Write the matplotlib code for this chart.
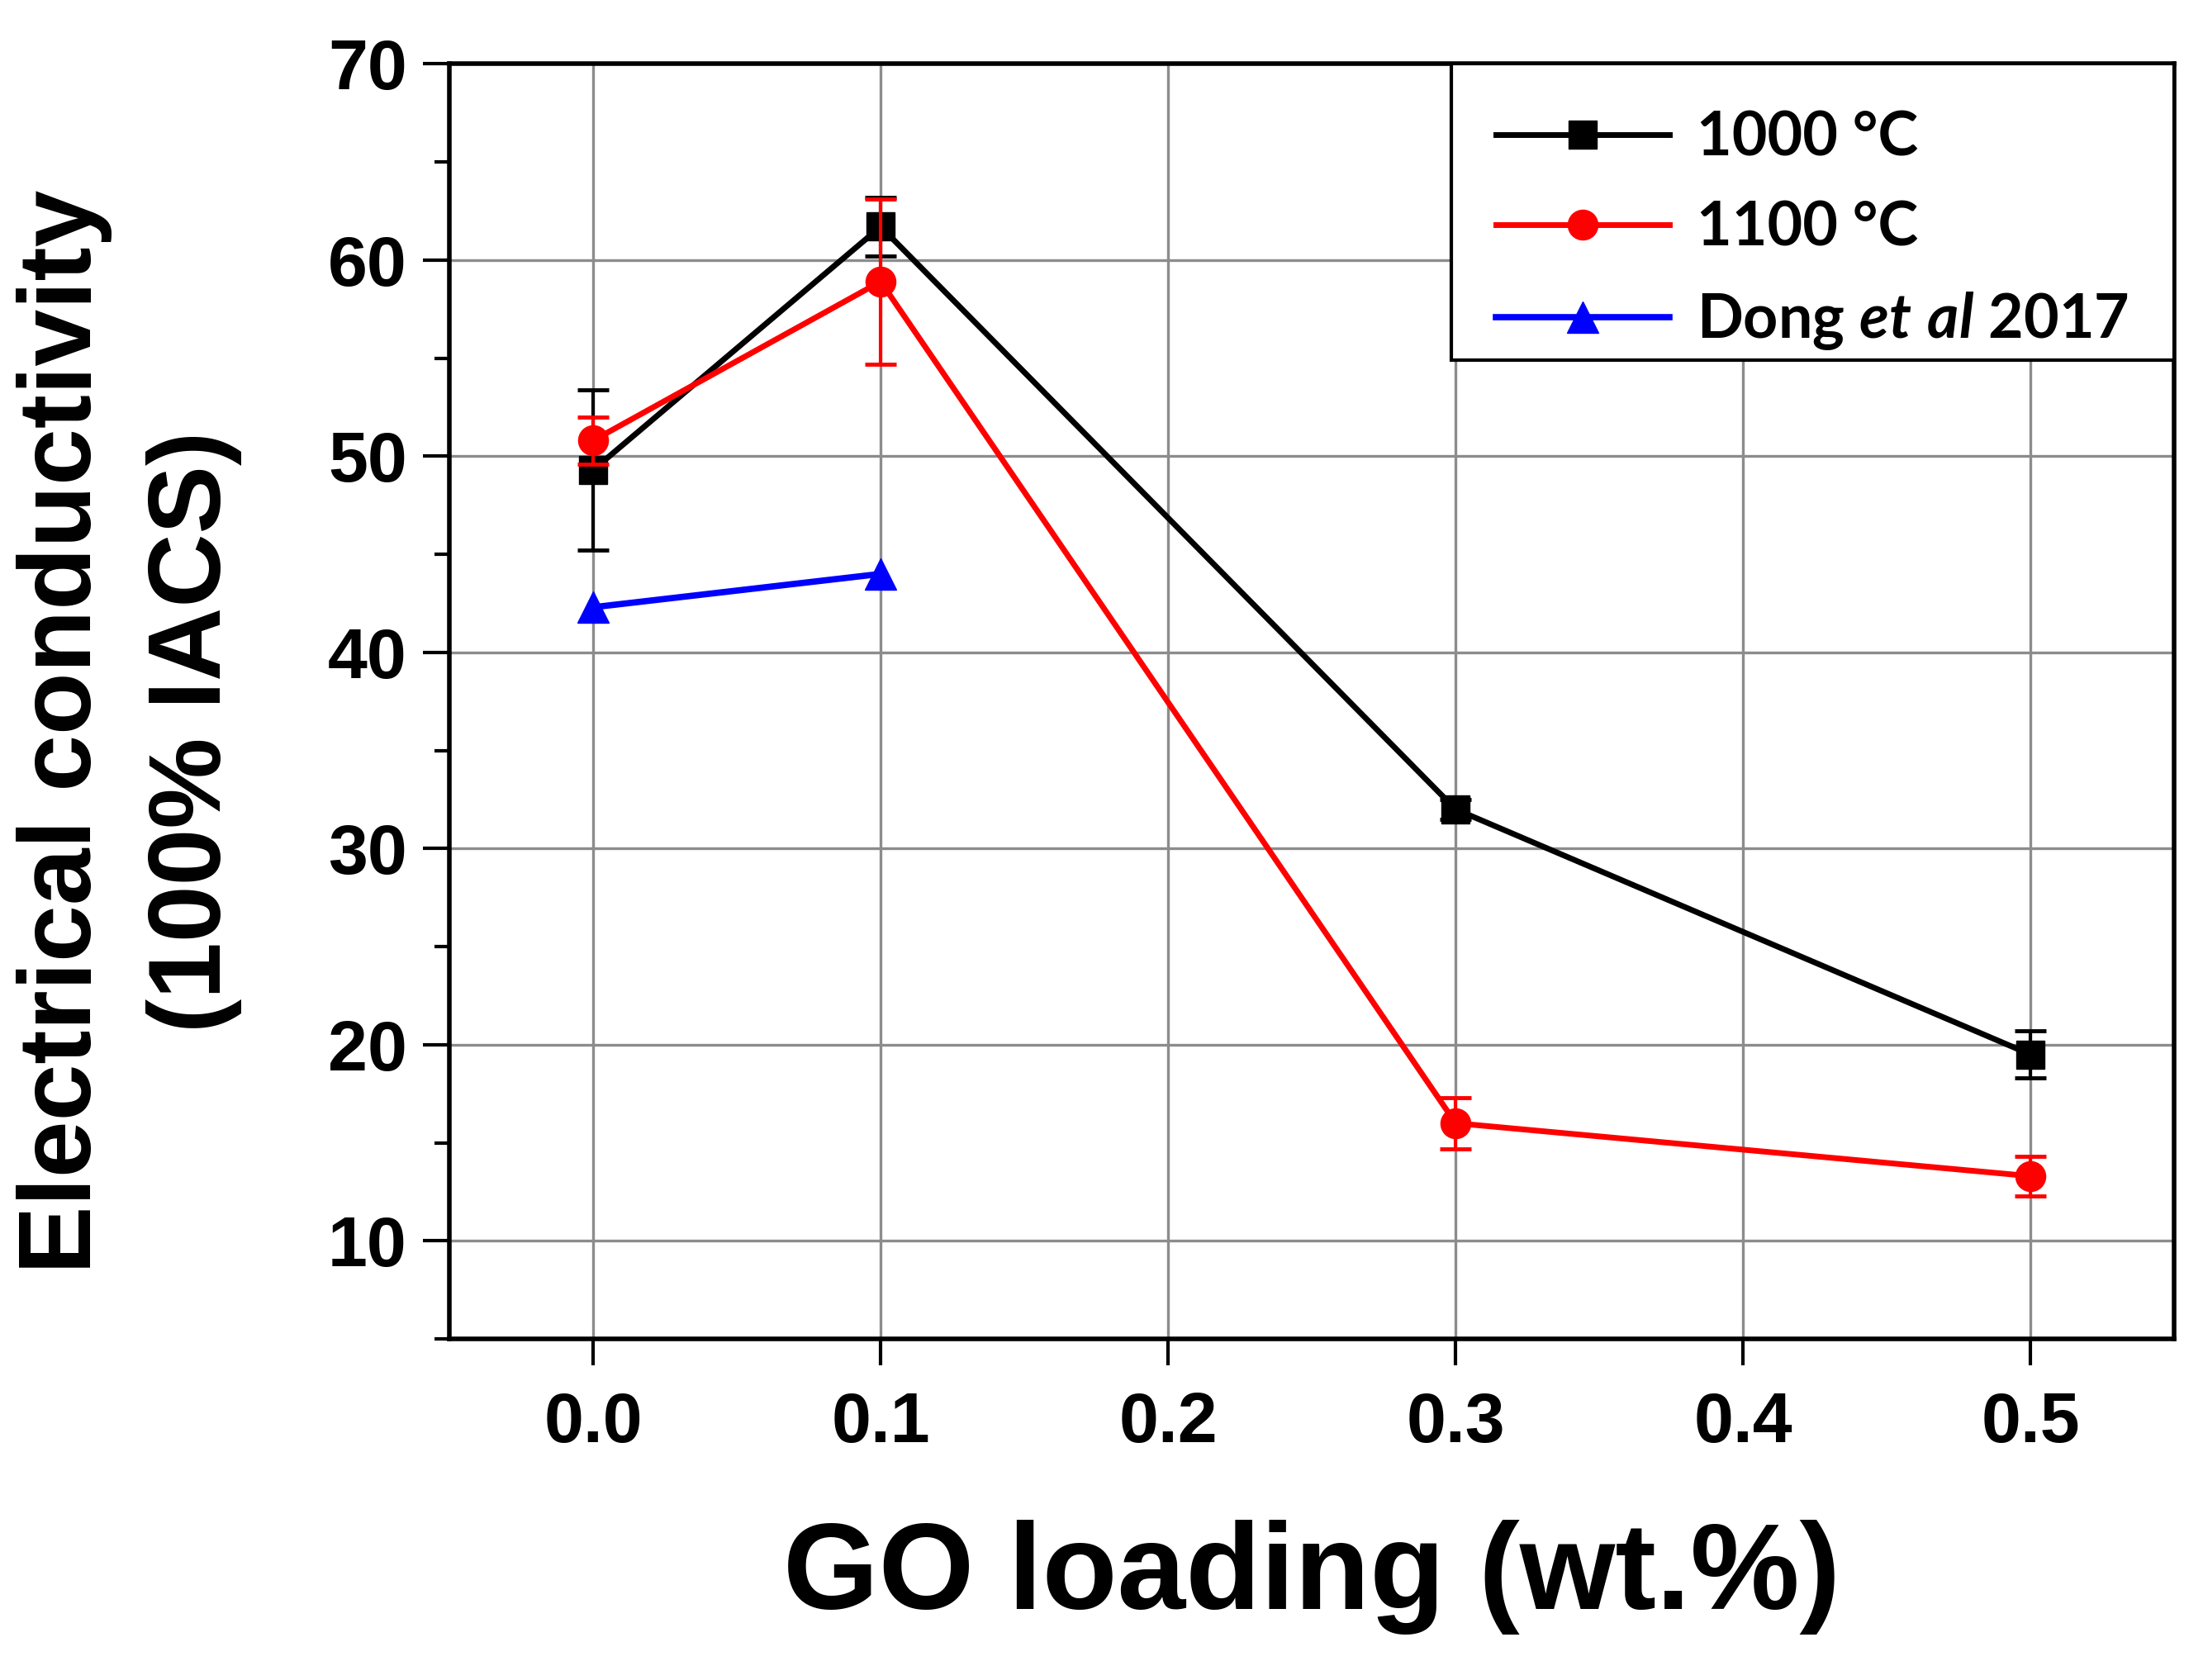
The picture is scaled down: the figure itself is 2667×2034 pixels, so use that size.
import numpy as np
import matplotlib
matplotlib.use("Agg")
import matplotlib.pyplot as plt
from matplotlib.ticker import MultipleLocator
from matplotlib.patches import Rectangle

# データ
go_loading = [0.0, 0.1, 0.3, 0.5]
cond_1000 = [49.3, 61.7, 32.0, 19.5]
err_1000 = [4.1, 1.5, 0.5, 1.2]
cond_1100 = [50.8, 58.9, 16.0, 13.3]
err_1100 = [1.2, 4.2, 1.3, 1.0]
dong_loading = [0.0, 0.1]
dong_cond = [42.3, 44.0]

labels = ["1000 °C", "1100 °C", r"Dong $\mathit{et\ al}$ 2017"]
x_ticks = [0.0, 0.1, 0.2, 0.3, 0.4, 0.5]
y_ticks = [10, 20, 30, 40, 50, 60, 70]

plt.rcParams["font.family"] = ["Liberation Sans", "DejaVu Sans"]
plt.rcParams["font.weight"] = "bold"
plt.rcParams["mathtext.fontset"] = "custom"
plt.rcParams["mathtext.it"] = "Lato:italic:bold"
plt.rcParams["mathtext.rm"] = "Lato:bold"

fig = plt.figure(figsize=(26.67, 20.34), dpi=100)
ax = fig.add_axes([0.204, 0.203, 0.783, 0.759])

ax.grid(True, color="#8c8c8c", lw=2.4, zorder=0)
ax.set_axisbelow(True)

c1 = ax.errorbar(go_loading, cond_1000, yerr=err_1000, color="black", lw=5,
                 marker="s", ms=24, capsize=14, elinewidth=3, capthick=3.5,
                 zorder=3)
c2 = ax.errorbar(go_loading, cond_1100, yerr=err_1100, color="red", lw=5,
                 marker="o", ms=26, capsize=14, elinewidth=3, capthick=3.5,
                 zorder=4)
l3, = ax.plot(dong_loading, dong_cond, color="blue", lw=5.5, marker="^", ms=27,
              zorder=3)

ax.set_xlim(-0.05, 0.55)
ax.set_ylim(5, 70)
ax.set_xticks(x_ticks)
ax.set_xticklabels([f"{v:.1f}" for v in x_ticks])
ax.set_yticks(y_ticks)
ax.yaxis.set_minor_locator(MultipleLocator(5))

for s in ax.spines.values():
    s.set_linewidth(4)
ax.tick_params(axis="both", which="major", direction="out", length=23, width=3,
               labelsize=62, pad=14)
ax.tick_params(axis="x", which="major", pad=22)
ax.tick_params(axis="y", which="minor", direction="out", length=13, width=3)

ax.set_xlabel("GO loading (wt.%)", fontsize=107, fontweight="bold", labelpad=55)
ax.set_ylabel("Electrical conductivity\n(100% IACS)", fontsize=89,
              fontweight="bold", labelpad=75, linespacing=1.45)
ax.yaxis.label.set_y(0.476)

# 凡例の枠は下側の余白が狭いので別に描く
ax.add_patch(Rectangle((0.5806, 0.7674), 0.4194, 0.2326, transform=ax.transAxes,
                       facecolor="white", edgecolor="black", lw=3, zorder=4.5))
leg = ax.legend([c1[0], c2[0], l3], labels, loc="upper right",
                borderaxespad=0, frameon=False,
                handlelength=2.85, borderpad=0.75, labelspacing=0.55,
                handletextpad=0.45,
                prop={"family": "Lato", "weight": "bold", "size": 53})

fig.savefig("out.png", dpi=100)
